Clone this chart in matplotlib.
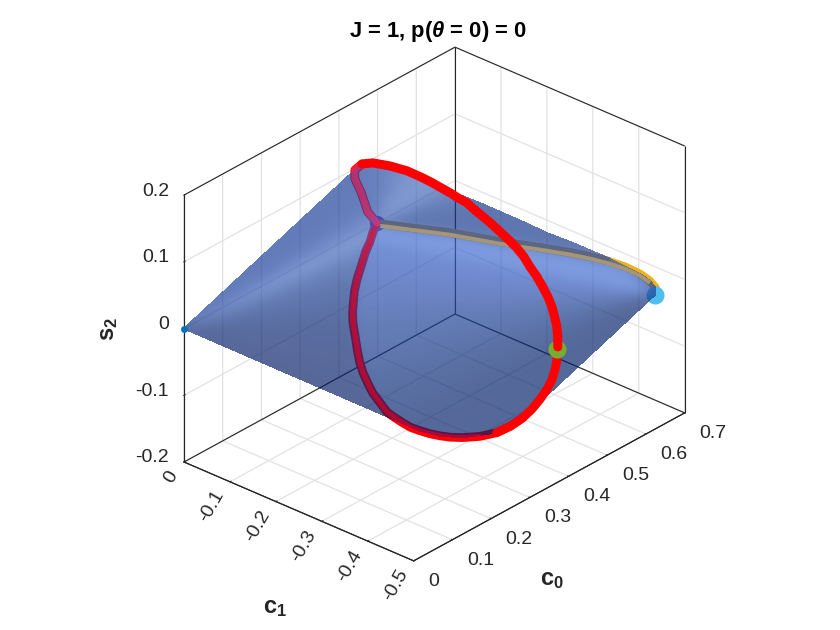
import numpy as np
import matplotlib
matplotlib.use('Agg')
import matplotlib.pyplot as plt
from mpl_toolkits.mplot3d import proj3d
from mpl_toolkits.mplot3d.art3d import Poly3DCollection

plt.rcParams.update({'font.family': 'Liberation Sans', 'mathtext.fontset': 'custom',
                     'mathtext.rm': 'Liberation Sans:bold', 'mathtext.bf': 'Liberation Sans:bold',
                     'mathtext.it': 'Liberation Sans:italic:bold'})

# ---- data -----------------------------------------------------------------------
# outline of the surface (coarse reading of the closed curve)
loop_c0 = [0.368,0.377,0.389,0.393,0.397,0.398,0.382,0.352,0.316,0.291,0.275,0.274,0.281,0.291,0.313,0.34,0.379,0.421,0.459,0.499,0.474,0.467,0.457,0.441,0.42,0.391,0.362,0.338,0.327,0.335,0.348,0.362,0.381,0.398,0.413,0.425,0.425,0.422,0.415,0.403,0.377]
loop_c1 = [-0.501,-0.494,-0.473,-0.443,-0.403,-0.345,-0.285,-0.261,-0.247,-0.231,-0.21,-0.18,-0.153,-0.132,-0.104,-0.082,-0.057,-0.035,-0.018,0.0,0.0,0.0,0.0,0.0,-0.018,-0.058,-0.106,-0.163,-0.21,-0.238,-0.263,-0.274,-0.295,-0.316,-0.34,-0.366,-0.395,-0.425,-0.451,-0.472,-0.496]
loop_s2 = [0,-.02,-.06,-.10,-.14,-.18,-.2,-.195,-.18,-.165,-.15,-.13,-.11,-.085,-.06,-.045,-.03,-.02,-.01,0,.025,.04,.06,.085,.11,.14,.165,.185,.195,.19,.18,.17,.155,.135,.115,.095,.075,.055,.035,.015,0]
# the red curve, in the three stretches it is drawn in
bottom_c0 = [.368,.377,.384,.389,.392,.393,.394,.397,.397,.398]
bottom_c1 = [-.501,-.494,-.484,-.473,-.459,-.443,-.425,-.403,-.377,-.345]
bottom_s2 = [0,-.02,-.04,-.06,-.08,-.1,-.12,-.14,-.16,-.18]
back_c0 = [.397,.397,.398,.387,.382,.364,.352,.337,.316,.302,.291,.283,.275,.274,.274,.275,.281,.284,.291,.3,.313,.325,.34,.359,.379,.4,.421,.439,.459,.48,.499,.474,.467,.457,.441,.42,.391]
back_c1 = [-.403,-.377,-.345,-.318,-.285,-.274,-.261,-.251,-.247,-.239,-.231,-.221,-.21,-.196,-.18,-.169,-.153,-.143,-.132,-.12,-.104,-.093,-.082,-.0685,-.057,-.046,-.035,-.026,-.018,-.007,0,0,0,0,0,-.018,-.058]
back_s2 = [-.14,-.16,-.18,-.19,-.2,-.197,-.195,-.19,-.18,-.173,-.165,-.158,-.15,-.14,-.13,-.12,-.11,-.0975,-.085,-.072,-.06,-.052,-.045,-.037,-.03,-.025,-.02,-.015,-.01,-.005,0,.025,.04,.06,.085,.11,.14]
top_c0 = [.391,.362,.338,.327,.335,.342,.348,.362,.37,.381,.389,.398,.406,.413,.419,.425,.427,.425,.424,.422,.419,.415,.409,.403,.391,.377]
top_c1 = [-.058,-.106,-.163,-.21,-.238,-.251,-.263,-.274,-.285,-.295,-.305,-.316,-.328,-.34,-.354,-.366,-.38,-.395,-.411,-.425,-.439,-.451,-.462,-.472,-.484,-.496]
top_s2 = [.14,.165,.185,.195,.19,.185,.18,.17,.163,.155,.145,.135,.125,.115,.105,.095,.085,.075,.065,.055,.045,.035,.025,.015,.0075,0]
edge_c0 = [0.403,0.431,0.457,0.492,0.525,0.572,0.617,0.63,0.636]
edge_c1 = [-0.261,-0.281,-0.303,-0.323,-0.347,-0.358,-0.403,-0.428,-0.456]
edge_s2 = [.15,.135,.12,.10,.08,.055,.03,.02,.01]
yellow_c0 = [0.5,0.524,0.556,0.589,0.619,0.64,0.652,0.662,0.666,0.664,0.657,0.645]
yellow_c1 = [-0.005,-0.051,-0.11,-0.191,-0.253,-0.301,-0.334,-0.369,-0.399,-0.433,-0.46,-0.483]
gray_c0 = [0.507,0.53,0.563,0.596,0.626,0.647,0.659,0.668]
gray_c1 = [0.0,-0.045,-0.105,-0.186,-0.248,-0.295,-0.328,-0.364]
tan_c0 = [0.495,0.519,0.551,0.584,0.614,0.635,0.647,0.656,0.66,0.659,0.652]
tan_c1 = [-0.01,-0.055,-0.115,-0.196,-0.258,-0.305,-0.338,-0.374,-0.403,-0.437,-0.465]
origin_pt = (0.0, 0.0, 0.0)
end_pt = (0.626, -0.498, 0.0)
mid_pt = (0.499, 0.0, 0.0)
start_pt = (0.369, -0.5, 0.0)

c0_ticks = [0, .1, .2, .3, .4, .5, .6, .7]
c0_labels = ['0', '0.1', '0.2', '0.3', '0.4', '0.5', '0.6', '0.7']
c1_ticks = [0, -.1, -.2, -.3, -.4, -.5]
c1_labels = ['0', '-0.1', '-0.2', '-0.3', '-0.4', '-0.5']
s2_ticks = [-.2, -.1, 0, .1, .2]
s2_labels = ['-0.2', '-0.1', '0', '0.1', '0.2']

# surface shades seen on the picture, facet by facet
left_shades = [(98,123,185),(99,124,186),(101,126,188),(103,128,190),(115,140,202),(132,157,215),
               (115,140,198),(103,127,182),(96,118,172),(92,112,165),(90,108,160),(89,106,156),
               (88,105,155),(87,104,153),(86,103,150),(86,103,150)]
lower_shades = [(125,155,225),(115,142,212),(112,138,206),(108,133,198),(104,129,190),(100,124,182),
                (96,119,174),(92,114,167),(89,110,161),(87,107,157),(85,105,154),(85,105,154),
                (85,105,154),(85,105,155),(85,105,155)]
upper_shades = [(104,129,190),(102,127,188),(103,128,189),(106,131,192),(115,140,200),(126,151,208),
                (128,153,210),(118,143,200),(105,130,187)]
rest_shade = (96,119,177)

ALPHA = 0.68
def base(rgb):
    return np.clip((np.array(rgb) / 255 - (1 - ALPHA)) / ALPHA, 0, 1).tolist() + [1.0]

def soften(line_, kern):
    return np.convolve(line_, kern, mode='same')

def group_alpha(im, dpi):
    """Blend the whole surface once and smooth its shading between facets."""
    sigma = 4.0
    t = np.arange(-12, 13)
    kern = np.exp(-t ** 2 / (2 * sigma ** 2)); kern /= kern.sum()
    w = (im[..., 3] > 0.5).astype(float)
    def blur(a):
        a = np.apply_along_axis(soften, 0, a, kern)
        return np.apply_along_axis(soften, 1, a, kern)
    wb = blur(w) + 1e-6
    out = np.zeros_like(im)
    for k in range(3):
        out[..., k] = blur(im[..., k] * w) / wb
    out[..., 3] = w * ALPHA
    return out, 0, 0

loop = np.column_stack([loop_c0, loop_c1, loop_s2])
bottom = np.column_stack([bottom_c0, bottom_c1, bottom_s2])
back = np.column_stack([back_c0, back_c1, back_s2])
top = np.column_stack([top_c0, top_c1, top_s2])
edge = np.column_stack([edge_c0, edge_c1, edge_s2])
yellow = np.column_stack([yellow_c0, yellow_c1, np.zeros(len(yellow_c0))])
gray = np.column_stack([gray_c0, gray_c1, np.zeros(len(gray_c0))])
tan = np.column_stack([tan_c0, tan_c1, np.zeros(len(tan_c0))])
O, E, P, G = map(np.array, (origin_pt, end_pt, mid_pt, start_pt))

fig = plt.figure(figsize=(8.4, 6.3), dpi=100)
ax = fig.add_axes([0, 0, 1, 1], projection='3d', computed_zorder=False)
ax.set_proj_type('ortho')
ax.view_init(elev=29, azim=-138.4)
ax.set_box_aspect((408, 307, 305))
ax.set_xlim(0, .7); ax.set_ylim(-.5, 0); ax.set_zlim(-.2, .2)
for a, t in ((ax.xaxis, c0_ticks), (ax.yaxis, c1_ticks), (ax.zaxis, s2_ticks)):
    a.set_ticks(t); a.set_ticklabels([''] * len(t))
    a.pane.set_facecolor('white'); a.pane.set_edgecolor('none')
    a.line.set_color('#262626'); a.line.set_linewidth(0.8)
    a._axinfo['grid'].update(color='#e2e2e2', linewidth=0.9)
    a._axinfo['tick'].update(inward_factor=0.01, outward_factor=0.05)
    a._axinfo['tick']['linewidth'] = {True: 0.7, False: 0.7}
ax.tick_params(color='#262626')
fig.text(438 / 840, 1 - 32 / 630, r'J = 1, p($\theta$ = 0) = 0', ha='center', va='center',
         fontsize=15.8, fontweight='bold', color='black')

# place the axes so the box lands where it does in the reference
fig.canvas.draw()
def px(x, y, z):
    X, Y, _ = proj3d.proj_transform(x, y, z, ax.get_proj())
    return ax.transData.transform((X, Y))
p1, p2 = px(0, 0, -.2), px(.7, 0, -.2)
t1, t2 = np.array([184, 630 - 462]), np.array([455, 630 - 314])
k = np.linalg.norm(t2 - t1) / np.linalg.norm(p2 - p1)
side = 630 * k
ctr = t1 - (p1 - np.array([420, 315])) * k
ax.set_position([(ctr[0] - side / 2) / 840, (ctr[1] - side / 2) / 630, side / 840, side / 630])

def note(x, y, z, text, dx, dy, **kw):
    X, Y, _ = proj3d.proj_transform(x, y, z, ax.get_proj())
    ax.annotate(text, xy=(X, Y), xytext=(dx, -dy), textcoords='offset pixels',
                annotation_clip=False, **kw)

tick_kw = dict(fontsize=14, color='#262626')
for v, s in zip(c0_ticks, c0_labels):
    note(v, -.5, -.2, s, 14.5, 20.5, ha='left', va='center', **tick_kw)
for v, s in zip(c1_ticks, c1_labels):
    note(0, v, -.2, s, -10, 10, ha='right', va='center', rotation=60, rotation_mode='anchor', **tick_kw)
for v, s in zip(s2_ticks, s2_labels):
    note(0, 0, v, s, -15, -4, ha='right', va='center', **tick_kw)
lab_kw = dict(fontsize=17, fontweight='bold', color='#262626', ha='center', va='center')
note(.35, -.5, -.2, r'$\mathbf{c}_{\mathbf{0}}$', 3, 93, **lab_kw)
note(0, -.25, -.2, r'$\mathbf{c}_{\mathbf{1}}$', -24, 96.5, **lab_kw)
note(0, 0, 0, r'$\mathbf{s}_{\mathbf{2}}$', -76, 0, rotation=90, **lab_kw)

RED = '#ff0000'
def line(pts, color, lw, z, alpha=1.0, cap='round'):
    pts = np.asarray(pts)
    ax.plot(pts[:, 0], pts[:, 1], pts[:, 2], color=color, lw=lw, alpha=alpha, zorder=z,
            solid_capstyle=cap, solid_joinstyle='round')
def dot(pt, color, size, z):
    ax.plot([pt[0]], [pt[1]], [pt[2]], 'o', color=color, ms=size, mew=0, zorder=z)

# box outline
xs, ys, zs = (0, .7), (-.5, 0), (-.2, .2)
box = [[(xs[0], ys[1], zs[0]), (xs[0], ys[1], zs[1])], [(xs[1], ys[1], zs[0]), (xs[1], ys[1], zs[1])],
       [(xs[1], ys[0], zs[0]), (xs[1], ys[0], zs[1])], [(xs[0], ys[1], zs[1]), (xs[1], ys[1], zs[1])],
       [(xs[1], ys[1], zs[1]), (xs[1], ys[0], zs[1])], [(xs[0], ys[1], zs[0]), (xs[1], ys[1], zs[0])],
       [(xs[1], ys[1], zs[0]), (xs[1], ys[0], zs[0])], [(xs[0], ys[1], zs[0]), (xs[0], ys[0], zs[0])],
       [(xs[0], ys[0], zs[0]), (xs[1], ys[0], zs[0])]]
for seg in box:
    line(seg, '#262626', 0.8, 1, cap='butt')

# parts under the surface
line(back, RED, 6.3, 2)
line(yellow, '#edb120', 6.0, 3)
dot(E, '#4dbeee', 13, 3.1)
dot(P, '#7e2f8e', 11, 3.1)

# surface: fans of facets seen on the picture
facets, shades = [], []
for n, i in enumerate(range(24, 8, -1)):              # fan from the origin
    facets.append([O, loop[i], loop[i - 1]]); shades.append(left_shades[n])
facets.append([E] + list(yellow[::-1]) + [P, loop[18]]); shades.append(lower_shades[0])
for n, i in enumerate(range(18, 4, -1)):              # fan from the far end, lower lobe
    facets.append([E, loop[i], loop[i - 1]]); shades.append(lower_shades[n + 1])
facets.append([P, loop[20], loop[21], loop[22], loop[23], loop[24]]); shades.append(upper_shades[0])
for n, i in enumerate(range(24, 32)):                 # upper lobe
    facets.append([P, loop[i], loop[i + 1]]); shades.append(upper_shades[n + 1])
facets.append([P, loop[32]] + list(edge) + [E] + list(yellow[::-1])); shades.append(rest_shade)
cols = [base(c) for c in shades]
surf = Poly3DCollection(facets, facecolors=cols, edgecolors=cols, linewidths=0.4,
                        antialiased=False, zorder=4)
surf.set_agg_filter(group_alpha)
ax.add_collection3d(surf)

# tint of the red seen through the surface
line(back[3:31], '#ff0020', 3.8, 5, alpha=0.5)
line(back[30:], '#ff3c78', 5.0, 5, alpha=0.5)
line(gray, '#5c6680', 2.9, 5, cap='butt')
line(tan, '#a5967a', 2.9, 5, cap='butt')
dot(O, '#0072bd', 5, 6)

# parts in front of the surface
line(bottom, RED, 6.3, 6)
dot(G, '#77ac30', 13, 7)
line(top, RED, 6.5, 8)

fig.savefig('out.png', dpi=100)
